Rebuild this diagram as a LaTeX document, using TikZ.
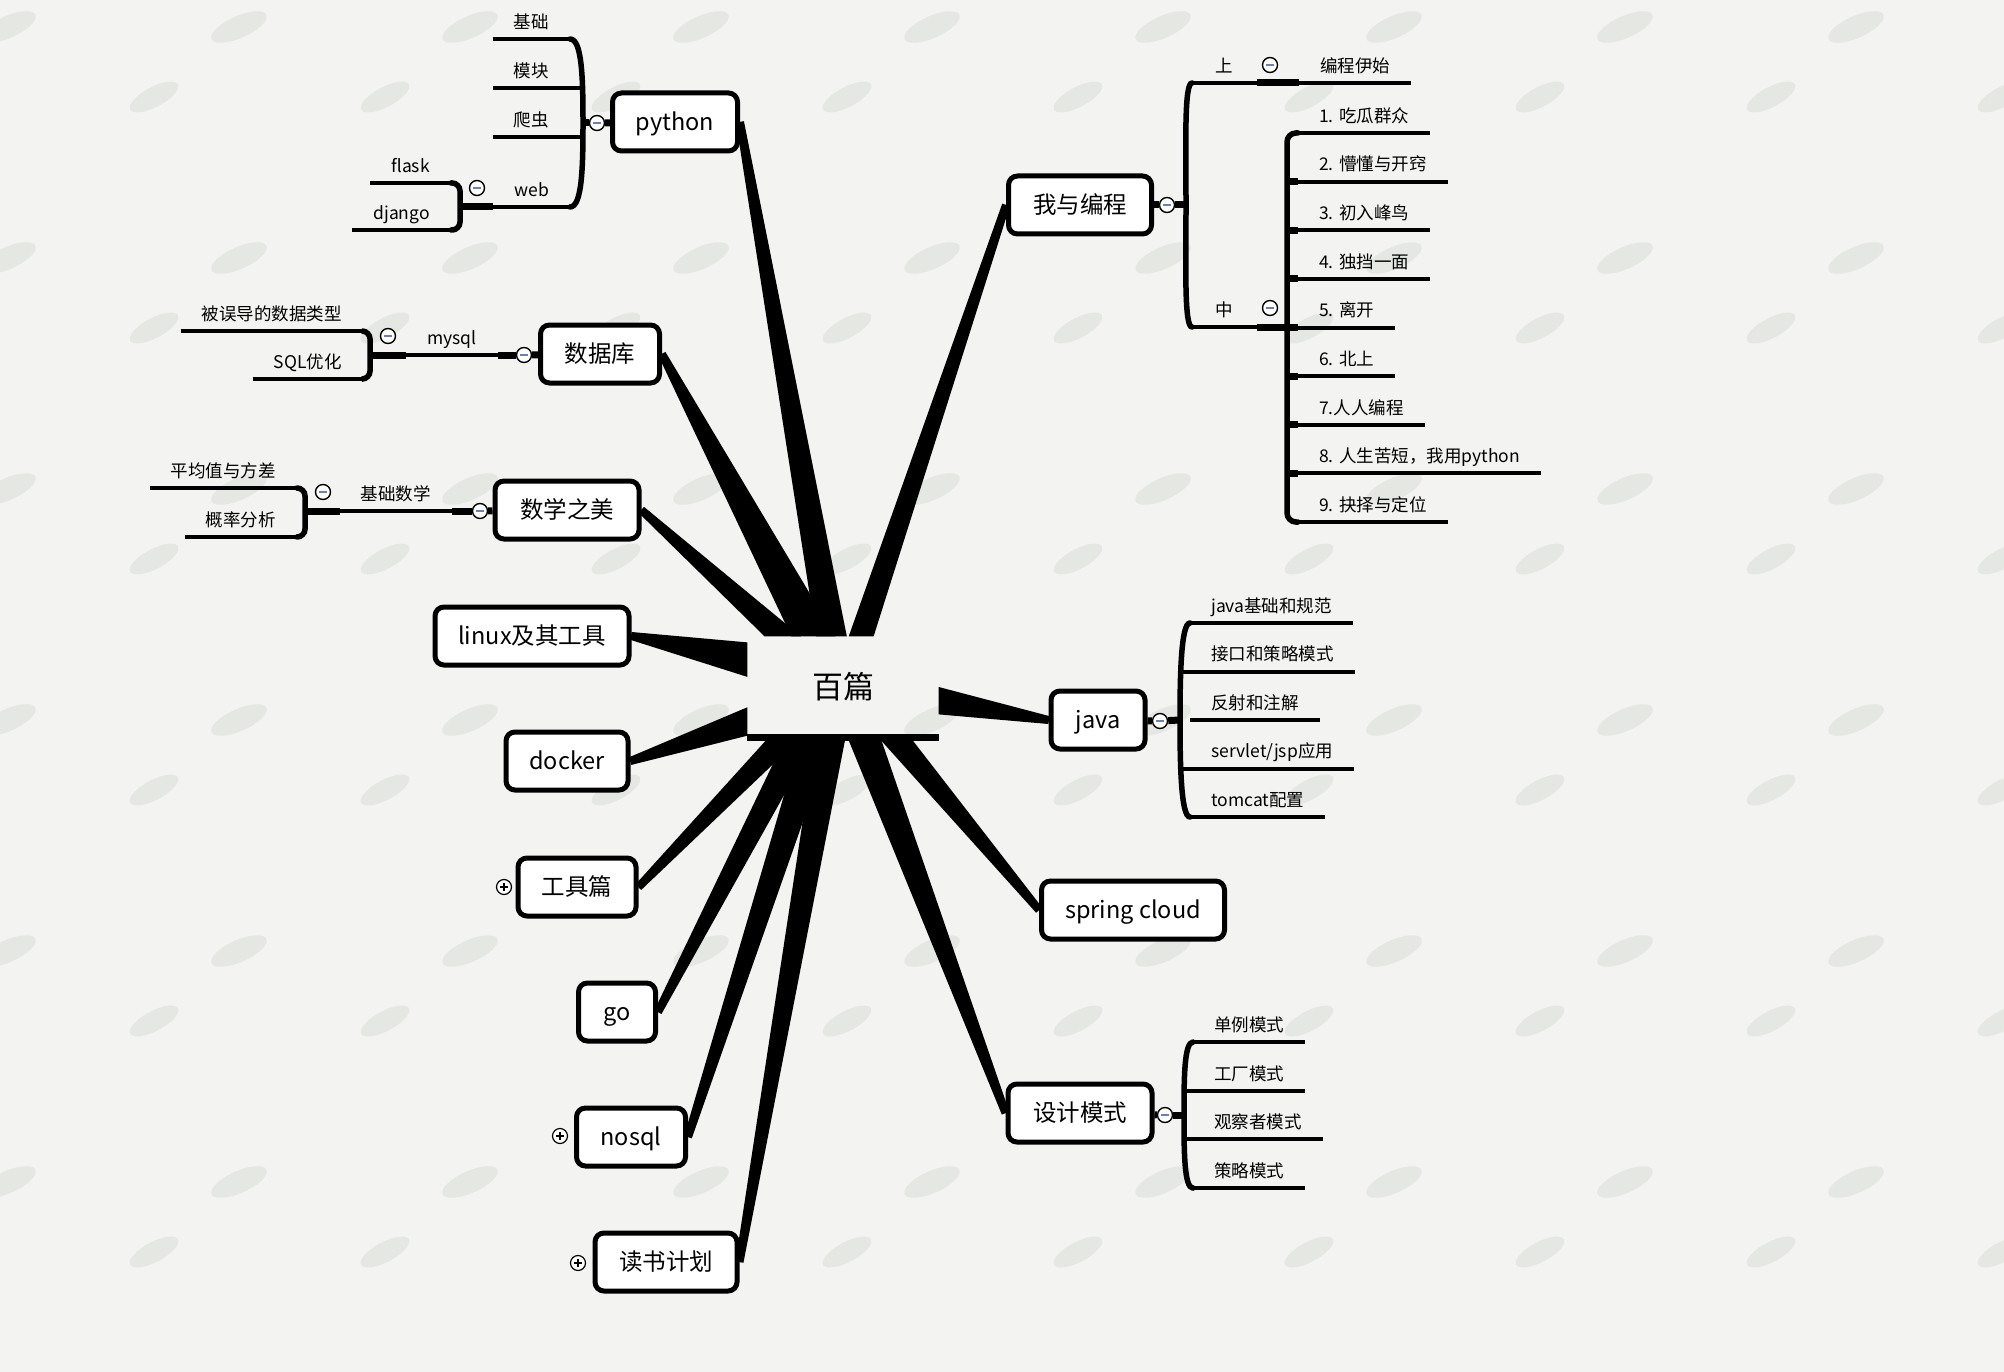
\documentclass[tikz,border=0pt]{standalone}
\usepackage{fontspec}
\setmainfont{Noto Sans CJK SC}
\usepackage{tikz}
\usetikzlibrary{calc,backgrounds}

\definecolor{paper}{HTML}{F3F3F1}
\definecolor{blob}{HTML}{D6D9D2}
\definecolor{foldmark}{HTML}{6F7FB3}

\newcommand{\rootfont}{\fontsize{31}{36}\selectfont}
\newcommand{\topicfont}{\fontsize{23.5}{28}\selectfont}
\newcommand{\leaffont}{\fontsize{17.5}{21}\selectfont}

% tapered branch: thin end at #1, wide end between #2 and #3
\newcommand{\spoke}[3]{%
  \fill[spoke] ($(#1)!4pt!90:(#2)$) -- (#2) -- (#3) -- ($(#1)!4pt!-90:(#3)$) -- cycle;}

\tikzset{
  topic/.style={draw, line width=5pt, rounded corners=9pt, fill=white, font=\topicfont,
    minimum height=58pt, inner sep=0pt, text height=20pt, text depth=3pt},
  root/.style={font=\rootfont, minimum width=191pt, minimum height=101pt, inner sep=0pt},
  leaf/.style={font=\leaffont, inner xsep=21pt, inner ysep=6.5pt, text height=14pt, text depth=4pt,
    append after command={(\tikzlastnode.south west) edge[twig] (\tikzlastnode.south east)}},
  twig/.style={line width=4pt},
  conn/.style={line width=7pt},
  spine/.style={line width=5.5pt, line cap=round},
  spoke/.style={fill=black},
  fold/.style={circle, draw, line width=1.4pt, fill=white, minimum size=15pt, inner sep=0pt,
    path picture={\draw[foldmark, line width=1.6pt] ([xshift=-4pt]path picture bounding box.center)
      -- ([xshift=4pt]path picture bounding box.center);}},
  unfold/.style={circle, draw, line width=1.2pt, fill=white, minimum size=15pt, inner sep=0pt,
    path picture={\draw[line width=1.3pt] ([xshift=-4pt]path picture bounding box.center)
      -- ([xshift=4pt]path picture bounding box.center)
      ([yshift=-4pt]path picture bounding box.center) -- ([yshift=4pt]path picture bounding box.center);}},
  blobfill/.style={fill=blob, opacity=0.45}
}

\begin{document}
\begin{tikzpicture}[x=1pt, y=-1pt]
\useasboundingbox (0,0) rectangle (2004,1372);

% central topic
\node[root] (root) at (843,687) {百篇};

% main topics
\node[topic, minimum width=125pt] (py) at (675,122) {python};
\node[topic, minimum width=119pt] (db) at (600,354) {数据库};
\node[topic, minimum width=144pt] (math) at (567,510) {数学之美};
\node[topic, minimum width=194pt] (linux) at (532,636) {linux及其工具};
\node[topic, minimum width=122pt] (docker) at (567,761) {docker};
\node[topic, minimum width=118pt] (tools) at (577,887) {工具篇};
\node[topic, minimum width=77pt] (go) at (617,1012) {go};
\node[topic, minimum width=109pt] (nosql) at (631,1137) {nosql};
\node[topic, minimum width=142pt] (books) at (666,1262) {读书计划};
\node[topic, minimum width=143pt] (wyb) at (1080,205) {我与编程};
\node[topic, minimum width=94pt] (java) at (1098,720) {java};
\node[topic, minimum width=183pt] (spring) at (1133,910) {spring cloud};
\node[topic, minimum width=144pt] (sjms) at (1080,1113) {设计模式};

% where the branches meet the central topic
\coordinate (mathA) at ($(root.north west)!.28!(root.north east)$);
\coordinate (mathB) at ($(root.north west)!.09!(root.north east)$);
\coordinate (dbA) at ($(root.north west)!.46!(root.north east)$);
\coordinate (dbB) at ($(root.north west)!.23!(root.north east)$);
\coordinate (pyA) at ($(root.north west)!.52!(root.north east)$);
\coordinate (pyB) at ($(root.north west)!.36!(root.north east)$);
\coordinate (wybA) at ($(root.north west)!.66!(root.north east)$);
\coordinate (wybB) at ($(root.north west)!.53!(root.north east)$);
\coordinate (linuxA) at ($(root.north west)!.06!(root.south west)$);
\coordinate (linuxB) at ($(root.north west)!.40!(root.south west)$);
\coordinate (dockerA) at ($(root.north west)!.70!(root.south west)$);
\coordinate (dockerB) at ($(root.north west)!.98!(root.south west)$);
\coordinate (javaA) at ($(root.north east)!.77!(root.south east)$);
\coordinate (javaB) at ($(root.north east)!.50!(root.south east)$);
\coordinate (toolsA) at ($(root.south west)!.11!(root.south east)$);
\coordinate (toolsB) at ($(root.south west)!.28!(root.south east)$);
\coordinate (goA) at ($(root.south west)!.20!(root.south east)$);
\coordinate (goB) at ($(root.south west)!.36!(root.south east)$);
\coordinate (nosqlA) at ($(root.south west)!.28!(root.south east)$);
\coordinate (nosqlB) at ($(root.south west)!.445!(root.south east)$);
\coordinate (booksA) at ($(root.south west)!.356!(root.south east)$);
\coordinate (booksB) at ($(root.south west)!.513!(root.south east)$);
\coordinate (sjmsA) at ($(root.south west)!.524!(root.south east)$);
\coordinate (sjmsB) at ($(root.south west)!.696!(root.south east)$);
\coordinate (springA) at ($(root.south west)!.686!(root.south east)$);
\coordinate (springB) at ($(root.south west)!.853!(root.south east)$);

\begin{scope}[on background layer]
  \fill[paper] (0,0) rectangle (2004,1372);
  \foreach \i in {0,...,9}
    \foreach \j in {0,...,6} {
      \fill[blobfill, rotate around={24:({8+231*\i},{27+231*\j})}]
        ({8+231*\i},{27+231*\j}) ellipse [x radius=30pt, y radius=11pt];
      \fill[blobfill, rotate around={28:({154+231*\i},{97+231*\j})}]
        ({154+231*\i},{97+231*\j}) ellipse [x radius=27pt, y radius=10pt];
    }
  \spoke{math.east}{mathA}{mathB}
  \spoke{db.east}{dbA}{dbB}
  \spoke{py.east}{pyA}{pyB}
  \spoke{wyb.west}{wybA}{wybB}
  \spoke{linux.east}{linuxA}{linuxB}
  \spoke{docker.east}{dockerA}{dockerB}
  \spoke{java.west}{javaA}{javaB}
  \spoke{tools.east}{toolsA}{toolsB}
  \spoke{go.east}{goA}{goB}
  \spoke{nosql.east}{nosqlA}{nosqlB}
  \spoke{books.east}{booksA}{booksB}
  \spoke{sjms.west}{sjmsA}{sjmsB}
  \spoke{spring.west}{springA}{springB}
\end{scope}
\draw[line width=6.5pt] (root.south west) -- (root.south east);

% collapsed topics
\node[unfold] (toolsf) at (504,887) {};
\node[unfold] (nosqlf) at (560,1136) {};
\node[unfold] (booksf) at (578,1263) {};

% python
\node[fold] (pyf) at (597,123) {};
\draw[conn] (pyf) -- (py);
\node[leaf, anchor=south east] (jc) at (570,39) {基础};
\node[leaf, anchor=south east] (mk) at (570,88) {模块};
\node[leaf, anchor=south east] (pc) at (570,137) {爬虫};
\node[leaf, anchor=south east] (web) at (570,207) {web};
\coordinate (pyj) at (583,123);
\draw[spine] (jc.south east) .. controls +(12,0) and +(0,-45) .. (pyj)
  .. controls +(0,45) and +(12,0) .. (web.south east);
\draw[twig] (mk.south east) -- ++(11,0);
\draw[twig] (pc.south east) -- ++(12,0);
\draw[conn] (pyf) -- (pyj);

\node[fold] (webf) at (477,188) {};
\coordinate (webj) at (460,207);
\draw[conn] (web.south west) -- (webj);
\node[leaf, anchor=south east] (flask) at (451,183) {flask};
\node[leaf, anchor=south east] (django) at (451,230) {django};
\draw[spine, rounded corners=8pt] (flask.south east) -| (django.south east -| webj) -- (django.south east);

% 数据库
\node[fold] (dbf) at (524,355) {};
\draw[conn] (dbf) -- (db);
\node[leaf, anchor=south east] (mysql) at (498,355) {mysql};
\draw[conn] (dbf) -- (mysql.south east);
\node[fold] (mysqlf) at (388,336) {};
\coordinate (mysqlj) at (370,355);
\draw[conn] (mysql.south west) -- (mysqlj);
\node[leaf, anchor=south east] (wdlx) at (363,331) {被误导的数据类型};
\node[leaf, anchor=south east] (sqlyh) at (363,379) {SQL优化};
\draw[spine, rounded corners=8pt] (wdlx.south east) -| (sqlyh.south east -| mysqlj) -- (sqlyh.south east);

% 数学之美
\node[fold] (mathf) at (480,511) {};
\draw[conn] (mathf) -- (math);
\node[leaf, anchor=south east] (jcsx) at (452,511) {基础数学};
\draw[conn] (mathf) -- (jcsx.south east);
\node[fold] (jcsxf) at (323,492) {};
\coordinate (jcsxj) at (305,511);
\draw[conn] (jcsx.south west) -- (jcsxj);
\node[leaf, anchor=south east] (pjz) at (297,488) {平均值与方差};
\node[leaf, anchor=south east] (glfx) at (297,537) {概率分析};
\draw[spine, rounded corners=8pt] (pjz.south east) -| (glfx.south east -| jcsxj) -- (glfx.south east);

% 我与编程
\node[fold] (wybf) at (1167,205) {};
\draw[conn] (wybf) -- (wyb);
\node[leaf, anchor=south west, minimum width=65pt] (shang) at (1192,83) {上};
\node[leaf, anchor=south west, minimum width=65pt] (zhong) at (1192,327) {中};
\coordinate (wybj) at (1186,205);
\draw[spine] (shang.south west) .. controls +(-8,0) and +(0,-60) .. (wybj)
  .. controls +(0,60) and +(-8,0) .. (zhong.south west);
\draw[conn] (wybf) -- (wybj);

\node[fold] (shangf) at (1270,65) {};
\node[leaf, anchor=south west] (bcys) at (1299,83) {编程伊始};
\draw[conn] (shang.south east) -- (bcys.south west);

\node[fold] (zhongf) at (1270,308) {};
\coordinate (zhongj) at (1287,327);
\draw[conn] (zhong.south east) -- ([xshift=11pt]zhongj);
\foreach \lbl [count=\i] in {1. 吃瓜群众, 2. 懵懂与开窍, 3. 初入峰鸟, 4. 独挡一面, 5. 离开,
    6. 北上, 7.人人编程, 8. 人生苦短，我用python, 9. 抉择与定位}
  \node[leaf, anchor=south west] (z\i) at (1298,{133+48.625*(\i-1)}) {\lbl};
\draw[spine, rounded corners=9pt] (z1.south west) -| (z9.south west -| zhongj) -- (z9.south west);
\foreach \i in {2,...,8}
  \draw[conn] (z\i.south west) -- (z\i.south west -| zhongj);

% java
\node[fold] (javaf) at (1160,721) {};
\draw[conn] (javaf) -- (java);
\foreach \lbl [count=\i] in {java基础和规范, 接口和策略模式, 反射和注解, servlet/jsp应用, tomcat配置}
  \node[leaf, anchor=south west] (jv\i) at (1190,{623+48.5*(\i-1)}) {\lbl};
\coordinate (javaj) at (1180,720);
\draw[spine] (jv1.south west) .. controls +(-9,0) and +(0,-45) .. (javaj)
  .. controls +(0,45) and +(-9,0) .. (jv5.south west);
\foreach \i in {2,4}
  \draw[twig] (jv\i.south west) -- ++(-9,0);
\draw[conn] (javaf) -- (javaj);

% 设计模式
\node[fold] (sjmsf) at (1165,1115) {};
\draw[conn] (sjmsf) -- (sjms);
\foreach \lbl [count=\i] in {单例模式, 工厂模式, 观察者模式, 策略模式}
  \node[leaf, anchor=south west] (ms\i) at (1193,{1042+48.7*(\i-1)}) {\lbl};
\coordinate (sjmsj) at (1184,1115);
\draw[spine] (ms1.south west) .. controls +(-9,0) and +(0,-35) .. (sjmsj)
  .. controls +(0,35) and +(-9,0) .. (ms4.south west);
\foreach \i in {2,3}
  \draw[twig] (ms\i.south west) -- ++(-9,0);
\draw[conn] (sjmsf) -- (sjmsj);

\end{tikzpicture}
\end{document}
